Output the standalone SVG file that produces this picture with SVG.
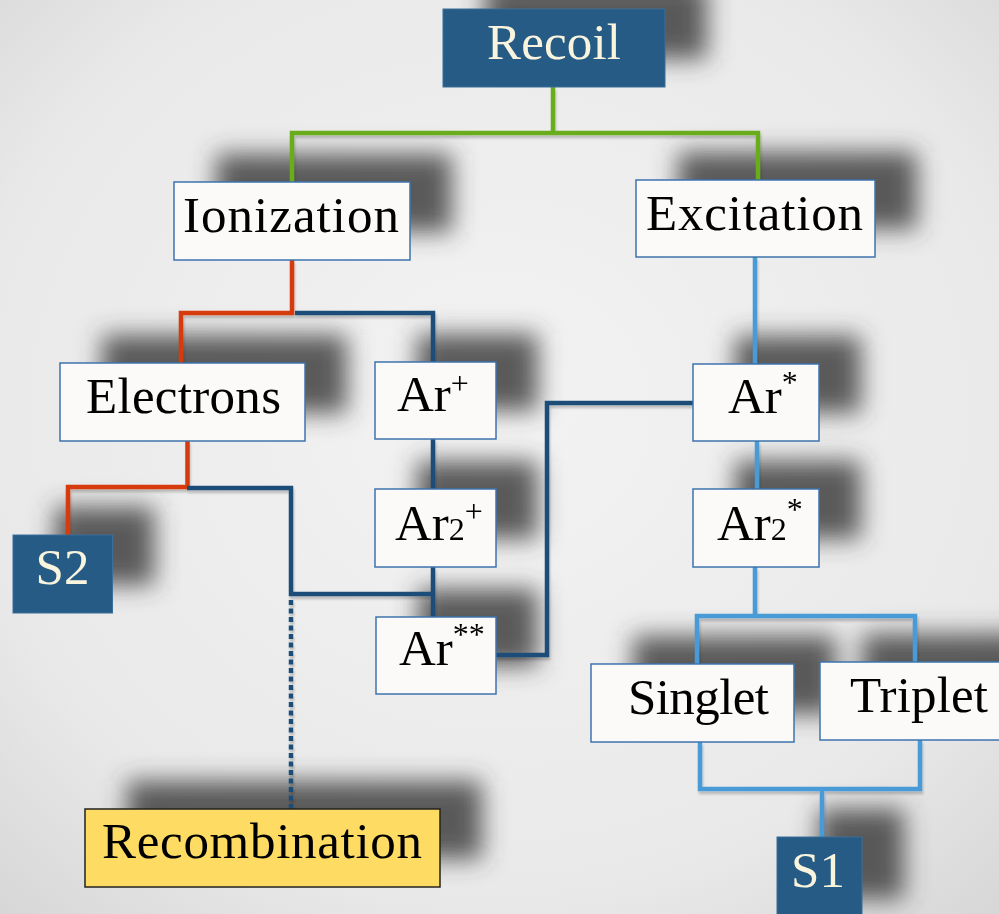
<svg xmlns="http://www.w3.org/2000/svg" width="999" height="914" viewBox="0 0 999 914">
<defs>
<radialGradient id="bg" cx="50%" cy="45%" r="75%">
<stop offset="0" stop-color="#f3f3f3"/>
<stop offset="0.7" stop-color="#e9e9e9"/>
<stop offset="1" stop-color="#d6d6d6"/>
</radialGradient>
<filter id="blur" filterUnits="userSpaceOnUse" x="-50" y="-80" width="1100" height="1080">
<feGaussianBlur stdDeviation="12"/>
</filter>
<filter id="lsh" filterUnits="userSpaceOnUse" x="0" y="0" width="999" height="914">
<feGaussianBlur in="SourceAlpha" stdDeviation="1.2"/>
<feOffset dx="1" dy="3"/>
<feComponentTransfer><feFuncA type="linear" slope="0.2"/></feComponentTransfer>
<feMerge><feMergeNode/><feMergeNode in="SourceGraphic"/></feMerge>
</filter>
<style>
.w{fill:#fcfaf9;stroke:#3d74ad;stroke-width:1.5}
.d{fill:#255b84;stroke:#3a6e9c;stroke-width:1}
.y{fill:#fedb63;stroke:#222;stroke-width:1.5}
.t{font-family:"Liberation Serif","DejaVu Serif",serif;font-size:51px;fill:#000}
.tc{font-family:"Liberation Serif","DejaVu Serif",serif;font-size:51px;fill:#f8f4de}
.sub{font-size:32px}
.sup{font-size:32px}
.g{stroke:#6aad1f;stroke-width:4.5;fill:none}
.r{stroke:#d53a0c;stroke-width:4.5;fill:none}
.b{stroke:#1f4d79;stroke-width:4.5;fill:none}
.l{stroke:#4a9bd8;stroke-width:4.5;fill:none}
.dot{stroke:#1f4d79;stroke-width:4.5;fill:none;stroke-dasharray:5 3.5}
.s{fill:#3e3e3e;opacity:0.85}
</style>
</defs>
<rect width="999" height="914" fill="url(#bg)"/>

<g id="shadows" filter="url(#blur)" transform="translate(42,-28)">
<rect class="s" x="443" y="9" width="222" height="78"/>
<rect class="s" x="174" y="182" width="236" height="78"/>
<rect class="s" x="636" y="180" width="239" height="77"/>
<rect class="s" x="60" y="363" width="245" height="78"/>
<rect class="s" x="375" y="362" width="121" height="77"/>
<rect class="s" x="375" y="489" width="121" height="78"/>
<rect class="s" x="376" y="617" width="120" height="77"/>
<rect class="s" x="13" y="535" width="99.5" height="78"/>
<rect class="s" x="693" y="364" width="126" height="77"/>
<rect class="s" x="693" y="489" width="126" height="78"/>
<rect class="s" x="591" y="664" width="203" height="78"/>
<rect class="s" x="820" y="662" width="190" height="78"/>
<rect class="s" x="85" y="809" width="355" height="78"/>
<rect class="s" x="777" y="837" width="85" height="90"/>
</g>

<g id="connectors" filter="url(#lsh)">
<path class="g" d="M553 87V133M292 182V133H758V180"/>
<path class="r" d="M292 260V313H181V363"/>
<path class="b" d="M295 313H433V362"/>
<path class="r" d="M187.5 441V487H68V535"/>
<path class="b" d="M187 488H291V594H431"/>
<path class="b" d="M433 439V489M433 567V617"/>
<path class="dot" d="M291 600V808"/>
<path class="b" d="M496 655H547V403H693"/>
<path class="l" d="M755 257V364M757 441V489M755 567V616M697 664V616H915V663"/>
<path class="l" d="M700 742V789H920V740M822 789V837"/>
</g>

<g id="recoil"><rect class="d" x="443" y="9" width="222" height="78"/><text class="tc" x="554" y="59" text-anchor="middle" textLength="134">Recoil</text></g>
<g id="ionization"><rect class="w" x="174" y="182" width="236" height="78"/><text class="t" x="291" y="232" text-anchor="middle" textLength="216">Ionization</text></g>
<g id="excitation"><rect class="w" x="636" y="180" width="239" height="77"/><text class="t" x="754.5" y="230" text-anchor="middle" textLength="217">Excitation</text></g>
<g id="electrons"><rect class="w" x="60" y="363" width="245" height="78"/><text class="t" x="183.5" y="413" text-anchor="middle" textLength="195">Electrons</text></g>
<g id="arplus"><rect class="w" x="375" y="362" width="121" height="77"/><text class="t" x="397" y="411">Ar<tspan class="sup" dy="-17">+</tspan></text></g>
<g id="ar2plus"><rect class="w" x="375" y="489" width="121" height="78"/><text class="t" x="395" y="540">Ar<tspan class="sub">2</tspan><tspan class="sup" dy="-18">+</tspan></text></g>
<g id="arstarstar"><rect class="w" x="376" y="617" width="120" height="77"/><text class="t" x="399" y="665">Ar<tspan class="sup" dy="-20">**</tspan></text></g>
<g id="s2"><rect class="d" x="13" y="535" width="99.5" height="78"/><text class="tc" x="62.5" y="584" text-anchor="middle">S2</text></g>
<g id="arstar"><rect class="w" x="693" y="364" width="126" height="77"/><text class="t" x="728" y="413">Ar<tspan class="sup" dy="-20">*</tspan></text></g>
<g id="ar2star"><rect class="w" x="693" y="489" width="126" height="78"/><text class="t" x="717" y="540">Ar<tspan class="sub">2</tspan><tspan class="sup" dy="-20">*</tspan></text></g>
<g id="singlet"><rect class="w" x="591" y="664" width="203" height="78"/><text class="t" x="698.5" y="714" text-anchor="middle" textLength="141">Singlet</text></g>
<g id="triplet"><rect class="w" x="820" y="662" width="190" height="78"/><text class="t" x="919" y="712" text-anchor="middle" textLength="138">Triplet</text></g>
<g id="recombination"><rect class="y" x="85" y="809" width="355" height="78"/><text class="t" x="262" y="858" text-anchor="middle" textLength="320">Recombination</text></g>
<g id="s1"><rect class="d" x="777" y="837" width="85" height="90"/><text class="tc" x="818" y="887" text-anchor="middle">S1</text></g>
</svg>
